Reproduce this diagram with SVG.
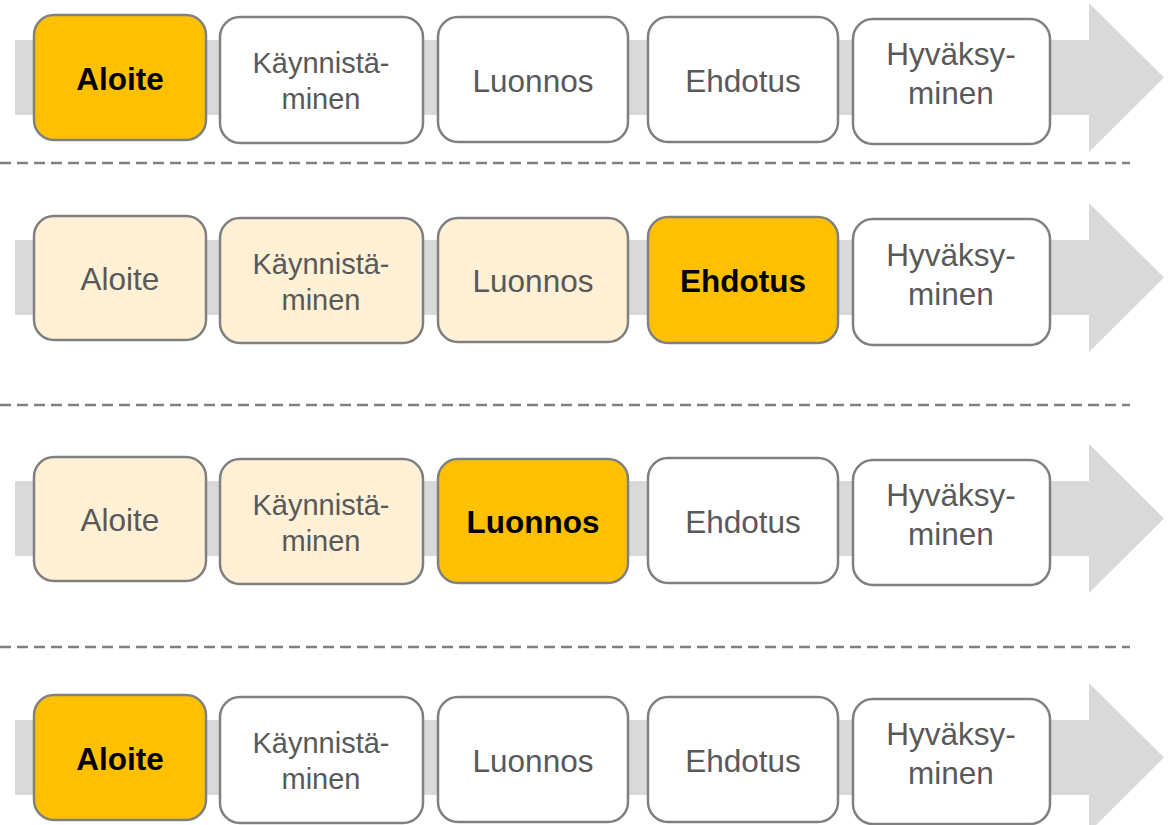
<svg xmlns="http://www.w3.org/2000/svg" width="1175" height="825" viewBox="0 0 1175 825">
<style>
.arrow{fill:#D9D9D9}
.sep{stroke:#808080;stroke-width:2.5;stroke-dasharray:11 6;fill:none}
.box{stroke:#808080;stroke-width:2.5}
.w{fill:#FFFFFF}
.l{fill:#FFF0D6}
.h{fill:#FFC000}
text{font-family:"Liberation Sans",Arial,sans-serif;text-anchor:middle;fill:#595959;font-size:31.5px}
text.b{font-weight:bold;fill:#000000}
text.s{font-size:29px}
</style>
<defs>
<path id="arr" class="arrow" d="M15,40 H1089 V3 L1164,77.5 L1089,152 V115 H15 Z"/>
</defs>
<g id="connectors">
<use href="#arr"/>
<use href="#arr" transform="translate(0,200)"/>
<use href="#arr" transform="translate(0,441)"/>
<use href="#arr" transform="translate(0,680)"/>
<line class="sep" x1="0" y1="163" x2="1130" y2="163"/>
<line class="sep" x1="0" y1="405" x2="1130" y2="405"/>
<line class="sep" x1="0" y1="647" x2="1130" y2="647"/>
</g>
<!-- Row 1 -->
<g id="r1-aloite"><rect class="box h" x="34" y="15" width="172" height="125" rx="20"/><text class="b" x="120" y="90">Aloite</text></g>
<g id="r1-kaynnistaminen"><rect class="box w" x="220" y="17" width="203" height="126" rx="20"/><text class="s" x="321" y="73">Käynnistä-</text><text class="s" x="321" y="109">minen</text></g>
<g id="r1-luonnos"><rect class="box w" x="438" y="17" width="190" height="125" rx="20"/><text x="533" y="92">Luonnos</text></g>
<g id="r1-ehdotus"><rect class="box w" x="648" y="17" width="190" height="125" rx="20"/><text x="743" y="92">Ehdotus</text></g>
<g id="r1-hyvaksyminen"><rect class="box w" x="853" y="19" width="197" height="125" rx="20"/><text x="951" y="65">Hyväksy-</text><text x="951" y="104">minen</text></g>
<!-- Row 2 -->
<g id="r2-aloite"><rect class="box l" x="34" y="216" width="172" height="124" rx="20"/><text x="120" y="290">Aloite</text></g>
<g id="r2-kaynnistaminen"><rect class="box l" x="220" y="218" width="203" height="125" rx="20"/><text class="s" x="321" y="274">Käynnistä-</text><text class="s" x="321" y="310">minen</text></g>
<g id="r2-luonnos"><rect class="box l" x="438" y="218" width="190" height="124" rx="20"/><text x="533" y="292">Luonnos</text></g>
<g id="r2-ehdotus"><rect class="box h" x="648" y="217" width="190" height="126" rx="20"/><text class="b" x="743" y="292">Ehdotus</text></g>
<g id="r2-hyvaksyminen"><rect class="box w" x="853" y="219" width="197" height="126" rx="20"/><text x="951" y="266">Hyväksy-</text><text x="951" y="305">minen</text></g>
<!-- Row 3 -->
<g id="r3-aloite"><rect class="box l" x="34" y="457" width="172" height="124" rx="20"/><text x="120" y="531">Aloite</text></g>
<g id="r3-kaynnistaminen"><rect class="box l" x="220" y="459" width="203" height="125" rx="20"/><text class="s" x="321" y="515">Käynnistä-</text><text class="s" x="321" y="551">minen</text></g>
<g id="r3-luonnos"><rect class="box h" x="438" y="459" width="190" height="124" rx="20"/><text class="b" x="533" y="533">Luonnos</text></g>
<g id="r3-ehdotus"><rect class="box w" x="648" y="458" width="190" height="125" rx="20"/><text x="743" y="533">Ehdotus</text></g>
<g id="r3-hyvaksyminen"><rect class="box w" x="853" y="460" width="197" height="125" rx="20"/><text x="951" y="506">Hyväksy-</text><text x="951" y="545">minen</text></g>
<!-- Row 4 -->
<g id="r4-aloite"><rect class="box h" x="34" y="695" width="172" height="125" rx="20"/><text class="b" x="120" y="770">Aloite</text></g>
<g id="r4-kaynnistaminen"><rect class="box w" x="220" y="697" width="203" height="126" rx="20"/><text class="s" x="321" y="753">Käynnistä-</text><text class="s" x="321" y="789">minen</text></g>
<g id="r4-luonnos"><rect class="box w" x="438" y="697" width="190" height="125" rx="20"/><text x="533" y="772">Luonnos</text></g>
<g id="r4-ehdotus"><rect class="box w" x="648" y="697" width="190" height="125" rx="20"/><text x="743" y="772">Ehdotus</text></g>
<g id="r4-hyvaksyminen"><rect class="box w" x="853" y="699" width="197" height="125" rx="20"/><text x="951" y="745">Hyväksy-</text><text x="951" y="784">minen</text></g>
</svg>
